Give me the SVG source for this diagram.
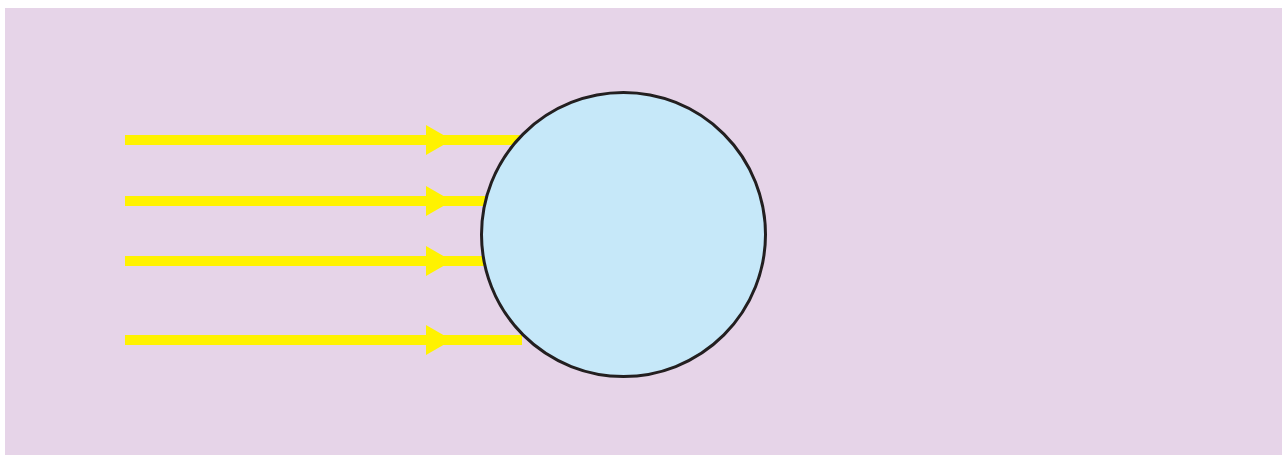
<svg xmlns="http://www.w3.org/2000/svg" width="1282" height="455" viewBox="0 0 1282 455">
<style>
.ray{stroke:#fff200;stroke-width:10;fill:none}
.head{fill:#fff200}
</style>
<rect x="0" y="0" width="1282" height="455" fill="#ffffff"/>
<rect id="background" x="5" y="8" width="1277" height="447" fill="#e6d4e8"/>
<g id="connectors">
<line class="ray" x1="125" y1="140" x2="540" y2="140"/>
<polygon class="head" points="426,125 452,140 426,155"/>
<line class="ray" x1="125" y1="201" x2="540" y2="201"/>
<polygon class="head" points="426,186 452,201 426,216"/>
<line class="ray" x1="125" y1="261" x2="540" y2="261"/>
<polygon class="head" points="426,246 452,261 426,276"/>
<line class="ray" x1="125" y1="340" x2="522" y2="340"/>
<polygon class="head" points="426,325 452,340 426,355"/>
</g>
<g id="sphere">
<circle cx="623.5" cy="234.5" r="142" fill="#c6e8f9" stroke="#231f20" stroke-width="3"/>
</g>
</svg>
